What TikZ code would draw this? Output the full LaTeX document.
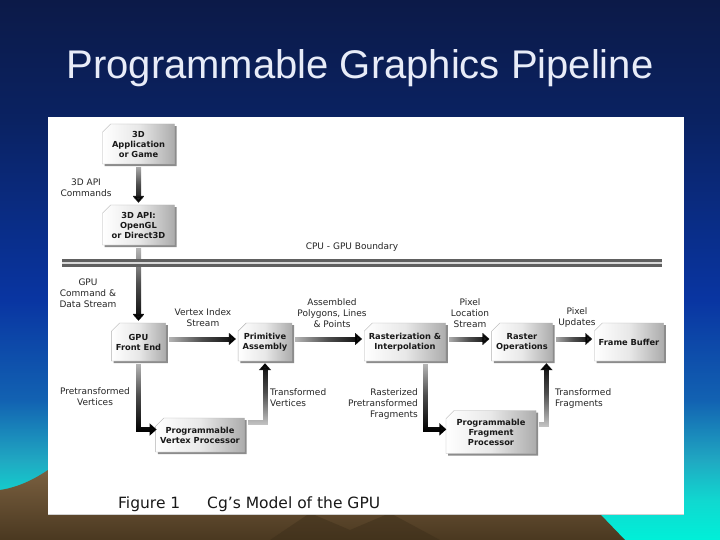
\documentclass[tikz,border=0pt]{standalone}
\usepackage{fontspec}
\setmainfont{DejaVu Sans}
\newfontfamily\titlefont{Liberation Sans}
\usetikzlibrary{shapes.misc,shadows,fadings,arrows.meta,calc}
\tikzfading[name=flowfade, left color=transparent!78, right color=transparent!0, middle color=transparent!30]
\definecolor{bgA}{HTML}{0C1A48}
\definecolor{bgB}{HTML}{0A2262}
\definecolor{bgC}{HTML}{0935A2}
\definecolor{bgD}{HTML}{1262B2}
\definecolor{bgE}{HTML}{20A8C2}
\definecolor{bgF}{HTML}{10D8D0}
\definecolor{bgG}{HTML}{00F0D8}
\definecolor{brA}{HTML}{7A6040}
\definecolor{brB}{HTML}{4A3820}
\definecolor{titleC}{HTML}{E8ECF8}
\tikzset{
  stage/.style={chamfered rectangle, chamfered rectangle corners=north west,
    chamfered rectangle xsep=4.5pt, inner xsep=0pt, inner ysep=1pt, align=center,
    font=\fontsize{8.3}{10}\selectfont\bfseries, text=black!90,
    draw=gray!60, line width=.4pt,
    left color=white, right color=gray!65, middle color=gray!18,
    drop shadow={shadow xshift=2.2pt, shadow yshift=-2.2pt, fill=black!75, opacity=.6}},
  lbl/.style={font=\fontsize{9}{11}\selectfont, text=black!85, align=center, inner sep=0pt},
  flow/.style={line width=5pt, black, -{Triangle[length=7pt,width=12pt]},
    path fading=flowfade, shorten >=2pt, shorten <=3pt},
  flowR/.style={flow, fading angle=0},
  flowD/.style={flow, fading angle=-90},
  flowU/.style={flow, fading angle=90},
  capt/.style={font=\fontsize{15.5}{18}\selectfont, text=black!90, inner sep=0pt, anchor=base west}
}
\begin{document}
\begin{tikzpicture}[x=1pt,y=-1pt]
\useasboundingbox (0,0) rectangle (720,540);
% slide background
\shade[top color=bgA, bottom color=bgB] (0,0) rectangle (720,120.5);
\shade[top color=bgB, bottom color=bgC] (0,120) rectangle (720,300.5);
\shade[top color=bgC, bottom color=bgD] (0,300) rectangle (720,400.5);
\shade[top color=bgD, bottom color=bgE] (0,400) rectangle (720,460.5);
\shade[top color=bgE, bottom color=bgF] (0,460) rectangle (720,500.5);
\shade[top color=bgF, bottom color=bgG] (0,500) rectangle (720,540);
\shade[top color=brA, bottom color=brB] (0,490) .. controls (20,487) and (36,478) .. (48,470)
  -- (400,500) -- (600,514) -- (625,540) -- (0,540) -- cycle;
\fill[brB!80!black, opacity=.45] (270,540) -- (310,513) -- (350,530) -- (390,513) -- (440,540) -- cycle;
% panel
\fill[white] (48,117) rectangle (684,514);
\draw[gray!35, line width=1pt] (48,514) -- (684,514);
% title
\node[font=\titlefont\fontsize{40}{48}\selectfont, text=titleC, anchor=base, inner sep=0pt]
  (title) at (360,79) {Programmable Graphics Pipeline};
% stages
\node[stage, minimum width=72pt, minimum height=40pt] (app) at (138.5,144) {3D\\Application\\or Game};
\node[stage, minimum width=72pt, minimum height=40pt] (api) at (138.5,225) {3D API:\\OpenGL\\or Direct3D};
\node[stage, minimum width=52pt, minimum height=38pt] (fe) at (138.5,342) {GPU\\Front End};
\node[stage, minimum width=52pt, minimum height=38pt] (pa) at (265,342) {Primitive\\Assembly};
\node[stage, minimum width=80pt, minimum height=38pt] (ri) at (405,342) {Rasterization \&\\Interpolation};
\node[stage, minimum width=59pt, minimum height=38pt] (ro) at (522,342) {Raster\\Operations};
\node[stage, minimum width=64pt, minimum height=38pt] (fb) at (629,342) {Frame Buffer};
\node[stage, minimum width=85pt, minimum height=34pt] (pvp) at (200,435) {Programmable\\Vertex Processor};
\node[stage, minimum width=90pt, minimum height=43pt] (pfp) at (491,432) {Programmable\\Fragment\\Processor};
% connectors
\draw[flowD] (app) -- (api);
\draw[flowD] (api) -- (fe);
\draw[flowR] ([yshift=3pt]fe.east) -- ([yshift=3pt]pa.west);
\draw[flowR] ([yshift=3pt]pa.east) -- ([yshift=3pt]ri.west);
\draw[flowR] ([yshift=3pt]ri.east) -- ([yshift=3pt]ro.west);
\draw[flowR] ([yshift=3pt]ro.east) -- ([yshift=3pt]fb.west);
\draw[flowD] (fe.south) |- ($(pvp.north west)!0.25!(pvp.south west)$);
\draw[flowU] ($(pvp.north east)!0.15!(pvp.south east)$) -| (pa.south);
\draw[flowD] ($(ri.south west)!0.75!(ri.south east)$) |- ($(pfp.north west)!0.38!(pfp.south west)$);
\draw[flowU] ($(pfp.north east)!0.33!(pfp.south east)$) -| ($(ro.south west)!0.9!(ro.south east)$);
% CPU-GPU boundary
\draw[line width=8pt, gray!75!black] (62,263) -- (662,263);
\draw[line width=2.5pt, gray!30] (62,263) -- (662,263);
% labels
\node[lbl] (lcmd) at (86,188) {3D API\\Commands};
\node[lbl] (lbound) at (352,247) {CPU - GPU Boundary};
\node[lbl] (lgpu) at (88,293) {GPU\\Command \&\\Data Stream};
\node[lbl] (lvis) at (203,318) {Vertex Index\\Stream};
\node[lbl] (lapl) at (332,313) {Assembled\\Polygons, Lines\\\& Points};
\node[lbl] (lpls) at (470,313) {Pixel\\Location\\Stream};
\node[lbl] (lpu) at (577,318) {Pixel\\Updates};
\node[lbl] (lpv) at (95,397) {Pretransformed\\Vertices};
\node[lbl, align=left, anchor=west] (ltv) at (270,398) {Transformed\\Vertices};
\node[lbl, align=right, anchor=east] (lrpf) at (418,404) {Rasterized\\Pretransformed\\Fragments};
\node[lbl, align=left, anchor=west] (ltf) at (555,399) {Transformed\\Fragments};
% caption
\node[capt] (cap1) at (118,508) {Figure 1};
\node[capt] (cap2) at (207,508) {Cg’s Model of the GPU};
\end{tikzpicture}
\end{document}
